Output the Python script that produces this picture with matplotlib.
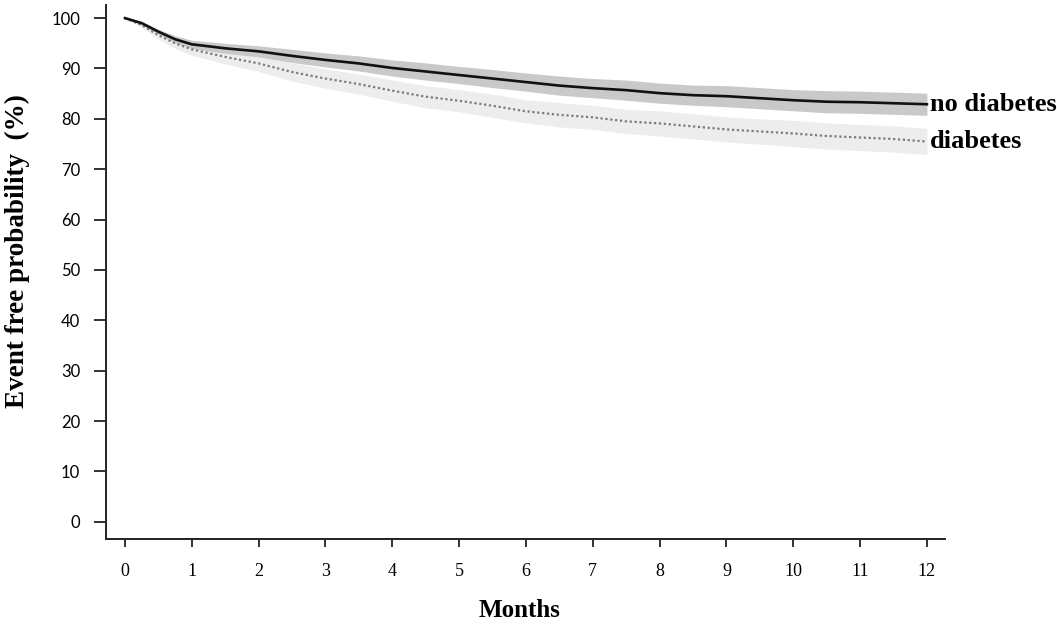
import matplotlib
matplotlib.use("Agg")
import numpy as np
import matplotlib.pyplot as plt

# --- data ---
months = [0, 0.25, 0.5, 0.75, 1, 1.5, 2, 2.5, 3, 3.5, 4, 4.5, 5, 5.5, 6,
          6.5, 7, 7.5, 8, 8.5, 9, 9.5, 10, 10.5, 11, 11.5, 12]

no_diab = [100, 99.0, 97.3, 95.8, 94.8, 94.0, 93.4, 92.5, 91.7, 91.0, 90.1, 89.4, 88.7, 88.0, 87.3,
           86.6, 86.1, 85.7, 85.1, 84.7, 84.5, 84.1, 83.7, 83.4, 83.3, 83.1, 82.9]
no_diab_hi = [100, 99.3, 97.8, 96.5, 95.6, 95.0, 94.5, 93.8, 93.1, 92.5, 91.7, 91.1, 90.4, 89.8, 89.1,
              88.5, 88.0, 87.7, 87.1, 86.7, 86.6, 86.2, 85.8, 85.6, 85.5, 85.3, 85.1]
no_diab_lo = [100, 98.7, 96.8, 95.1, 94.0, 93.0, 92.3, 91.2, 90.3, 89.5, 88.5, 87.7, 87.0, 86.2, 85.5,
              84.7, 84.2, 83.7, 83.1, 82.7, 82.4, 82.0, 81.6, 81.2, 81.1, 80.9, 80.7]

diab = [100, 98.6, 96.6, 95.0, 93.8, 92.3, 91.0, 89.3, 88.0, 86.9, 85.6, 84.4, 83.6, 82.6, 81.5,
        80.8, 80.3, 79.5, 79.1, 78.5, 77.9, 77.5, 77.1, 76.6, 76.3, 76.0, 75.5]
diab_hi = [100, 99.0, 97.4, 96.0, 95.0, 93.7, 92.6, 91.1, 89.9, 88.9, 87.7, 86.6, 85.8, 84.9, 83.8,
           83.2, 82.7, 81.9, 81.6, 81.0, 80.4, 80.0, 79.7, 79.2, 78.9, 78.6, 78.1]
diab_lo = [100, 98.2, 95.8, 94.0, 92.6, 90.9, 89.4, 87.5, 86.1, 84.9, 83.5, 82.2, 81.4, 80.3, 79.2,
           78.4, 77.9, 77.1, 76.6, 76.0, 75.4, 75.0, 74.5, 74.0, 73.7, 73.4, 72.9]

x_ticks = list(range(0, 13))
y_ticks = list(range(0, 101, 10))

serif = "Liberation Serif"
sans = "Lato"

fig = plt.figure(figsize=(10.57, 6.26), dpi=100)
ax = fig.add_axes([0.1003, 0.139, 0.7937, 0.853])

# confidence bands
ax.fill_between(months, diab_lo, diab_hi, color="#ededed", lw=0, zorder=1)
ax.fill_between(months, no_diab_lo, no_diab_hi, color="#c9c9c9", lw=0, zorder=2)

# survival curves
ax.plot(months, diab, color="#7a7a7a", lw=1.6, ls=(0, (1, 1.2)), zorder=3)
ax.plot(months, no_diab, color="#111111", lw=1.9, zorder=4)

# end labels
ax.text(12.05, no_diab[-1], "no diabetes", fontfamily=serif, fontweight="bold",
        fontsize=19, ha="left", va="center", clip_on=False)
ax.text(12.05, diab[-1], "diabetes", fontfamily=serif, fontweight="bold",
        fontsize=19, ha="left", va="center", clip_on=False)

ax.set_xlim(-0.284, 12.27)
ax.set_ylim(-3.4, 102.6)
ax.set_xticks(x_ticks)
ax.set_yticks(y_ticks)

for side in ("top", "right"):
    ax.spines[side].set_visible(False)
for side in ("left", "bottom"):
    ax.spines[side].set_linewidth(1.4)
    ax.spines[side].set_color("#222222")

ax.tick_params(axis="x", direction="out", length=6, width=1.3, pad=11, color="#222222")
ax.tick_params(axis="y", direction="out", length=8.5, width=1.3, pad=10, color="#222222")
for lab in ax.get_xticklabels():
    lab.set_fontfamily(serif)
    lab.set_fontsize(13)
for lab in ax.get_yticklabels():
    lab.set_fontfamily(sans)
    lab.set_fontsize(12)

ax.set_xlabel("Months", fontfamily=serif, fontweight="bold", fontsize=18)
ax.set_ylabel("Event free probability  (%)", fontfamily=serif, fontweight="bold", fontsize=19.5)
ax.xaxis.set_label_coords(0.493, -0.133)
ax.xaxis.label.set_va("center")
ax.yaxis.set_label_coords(-0.105, 0.539)
ax.yaxis.label.set_va("center")

fig.savefig("out.png", dpi=100)
